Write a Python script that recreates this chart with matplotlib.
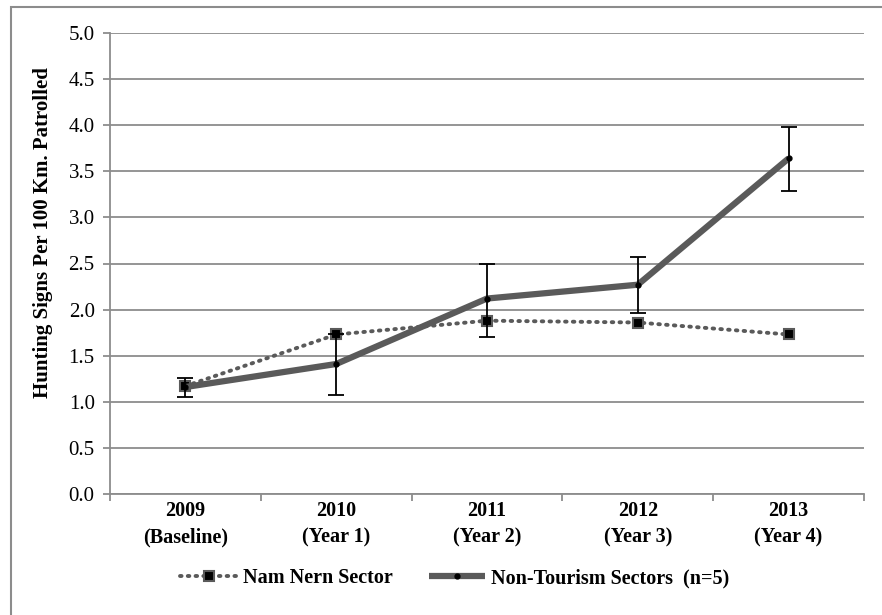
#!/usr/bin/env python3

import matplotlib
matplotlib.use("Agg")
import matplotlib.pyplot as plt
from matplotlib.patches import Rectangle


# Chart data
CATEGORIES = ["2009\n(Baseline)", "2010\n(Year 1)", "2011\n(Year 2)",
              "2012\n(Year 3)", "2013\n(Year 4)"]

NAM_NERN = [1.17, 1.73, 1.88, 1.86, 1.73]

NON_TOURISM = [1.16, 1.41, 2.12, 2.27, 3.64]
NON_TOURISM_LOW = [1.05, 1.07, 1.70, 1.96, 3.29]
NON_TOURISM_HIGH = [1.26, 1.74, 2.50, 2.57, 3.98]

Y_TICKS = [0.0, 0.5, 1.0, 1.5, 2.0, 2.5, 3.0, 3.5, 4.0, 4.5, 5.0]

Y_LABEL = "Hunting Signs Per 100 Km. Patrolled"
NAME_NAM_NERN = "Nam Nern Sector"
NAME_NON_TOURISM = "Non-Tourism Sectors  (n=5)"

W, H = 882, 615
LINE_GRAY = "#5a5a5a"
AXIS_GRAY = "#8c8c8c"


def main():
    plt.rcParams["font.family"] = ["Liberation Serif", "DejaVu Serif"]

    fig = plt.figure(figsize=(W / 100, H / 100), dpi=100)

    # Outer frame (only top and left edges are visible in the reference)
    fig.patches.append(Rectangle((11 / W, -0.05), 1.2, 1 - 7 / H + 0.05,
                                 transform=fig.transFigure, fill=False,
                                 edgecolor=AXIS_GRAY, linewidth=1.5))

    left, right, top, bottom = 110, 864, 33, 494
    ax = fig.add_axes([left / W, 1 - bottom / H,
                       (right - left) / W, (bottom - top) / H])

    xs = list(range(len(CATEGORIES)))

    ax.plot(xs, NAM_NERN, linestyle=(0, (0.4, 1.6)), dash_capstyle="round",
            color=LINE_GRAY, linewidth=2.8, marker="s", markersize=6.5,
            markerfacecolor="black", markeredgecolor=LINE_GRAY,
            markeredgewidth=1.5, zorder=3, label=NAME_NAM_NERN)

    ax.plot(xs, NON_TOURISM, color=LINE_GRAY, linewidth=4.5,
            solid_capstyle="butt", marker="o", markersize=3.5,
            markerfacecolor="black", markeredgecolor="black",
            zorder=4, label=NAME_NON_TOURISM)

    err_low = [v - lo for v, lo in zip(NON_TOURISM, NON_TOURISM_LOW)]
    err_high = [hi - v for v, hi in zip(NON_TOURISM, NON_TOURISM_HIGH)]
    ax.errorbar(xs, NON_TOURISM, yerr=[err_low, err_high], fmt="none",
                ecolor="black", elinewidth=1.3, capsize=5.5, capthick=1.3,
                zorder=5)

    ax.set_xlim(-0.5, len(CATEGORIES) - 0.5)
    ax.set_ylim(0, 5.0)

    ax.set_yticks(Y_TICKS)
    ax.set_yticklabels([f"{t:.1f}" for t in Y_TICKS], fontsize=15)
    ax.yaxis.grid(True, color=AXIS_GRAY, linewidth=1.3)
    ax.set_axisbelow(True)

    ax.set_xticks([x - 0.5 for x in range(len(CATEGORIES) + 1)])
    ax.set_xticklabels([])
    ax.set_xticks(xs, minor=True)
    ax.set_xticklabels(CATEGORIES, minor=True, fontsize=14.5,
                       fontweight="bold", linespacing=1.45)
    ax.tick_params(axis="x", which="minor", length=0, pad=5)
    ax.tick_params(axis="x", which="major", length=5, color=AXIS_GRAY,
                   width=1.3)
    ax.tick_params(axis="y", length=5, color=AXIS_GRAY, width=1.3, pad=6)

    for side in ["top", "right"]:
        ax.spines[side].set_visible(False)
    for side in ["left", "bottom"]:
        ax.spines[side].set_color(AXIS_GRAY)
        ax.spines[side].set_linewidth(1.3)

    fig.text(43 / W, 1 - 233 / H, Y_LABEL, rotation=90, ha="center",
             va="center", fontsize=15, fontweight="bold")

    fig.legend(loc="center", bbox_to_anchor=(455 / W, 1 - 578 / H),
               ncol=2, frameon=False, handlelength=2.8, handletextpad=0.3,
               columnspacing=1.8, prop={"size": 14.5, "weight": "bold"})

    fig.savefig("out.png", dpi=100, facecolor="white")


if __name__ == "__main__":
    main()
